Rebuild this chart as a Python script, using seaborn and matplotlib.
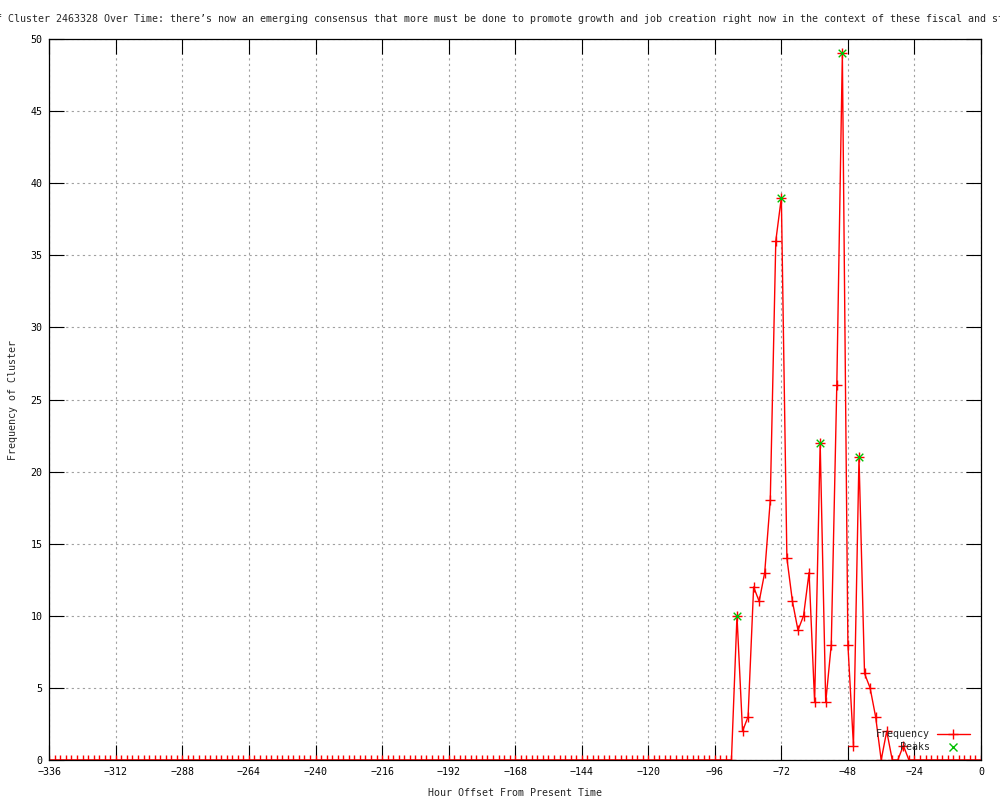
import numpy as np
import pandas as pd
import matplotlib
matplotlib.use("Agg")
import matplotlib.pyplot as plt
import seaborn as sns
from matplotlib.lines import Line2D

# hourly bins (every 2 hours) from -336 up to 0
hours = list(range(-336, 1, 2))
freq = [0] * 124 + [
    10, 2, 3, 12, 11, 13, 18, 36, 39, 14,
    11, 9, 10, 13, 4, 22, 4, 8, 26, 49,
    8, 1, 21, 6, 5, 3, 0, 2, 0, 0,
    1, 0, 0, 0, 0, 0, 0, 0, 0, 0,
    0, 0, 0, 0, 0,
]
peak_hours = [-88, -72, -58, -50, -44]
peak_vals = [10, 39, 22, 49, 21]

title = ("Frequency of Cluster 2463328 Over Time: there\u2019s now an emerging consensus "
         "that more must be done to promote growth and job creation right now in the "
         "context of these fiscal and structural reforms")

df = pd.DataFrame({"hour": hours, "freq": freq})
peaks = pd.DataFrame({"hour": peak_hours, "freq": peak_vals})

sns.set_style("ticks")
plt.rcParams["font.family"] = ["DejaVu Sans Mono"]
fs = 7.2

fig = plt.figure(figsize=(10, 8), dpi=100)
ax = fig.add_axes([0.0493, 0.05, 0.9317, 0.90125])

sns.lineplot(data=df, x="hour", y="freq", ax=ax, color="red", lw=1.0,
             marker="+", markersize=7, markeredgewidth=1.0, markeredgecolor="red",
             legend=False)
sns.scatterplot(data=peaks, x="hour", y="freq", ax=ax, color="#00c000", marker="x",
                s=30, linewidth=1.0, legend=False, zorder=3)

ax.set_xlim(-336, 0)
ax.set_ylim(0, 50)
ax.set_xticks(range(-336, 1, 24))
ax.set_yticks(range(0, 51, 5))
ax.set_xlabel("")
ax.set_ylabel("")
ax.grid(True, color="#a0a0a0", linestyle=(0, (2, 3)), lw=0.8)
ax.tick_params(direction="in", length=11, width=0.8, top=True, right=True,
               labelsize=fs, colors="black")
ax.tick_params(axis="y", pad=5)
ax.tick_params(axis="x", pad=5)
for s in ax.spines.values():
    s.set_visible(True)
    s.set_linewidth(0.9)
    s.set_color("black")

# title is wider than the figure and gets cut at both edges, as in the original
fig.text(0.515, 0.976, title, ha="center", va="center", fontsize=fs)
fig.text(0.515, 0.009, "Hour Offset From Present Time", ha="center", va="center", fontsize=fs)
fig.text(0.013, 0.5, "Frequency of Cluster", rotation=90, ha="center", va="center", fontsize=fs)

handles = [
    Line2D([], [], color="red", lw=1.0, marker="+", markersize=7, markeredgewidth=1.0),
    Line2D([], [], color="#00c000", lw=0, marker="x", markersize=6, markeredgewidth=1.0),
]
ax.legend(handles, ["Frequency", "Peaks"], loc="lower right", bbox_to_anchor=(0.988, 0.011),
          frameon=False, markerfirst=False, fontsize=fs, borderpad=0, borderaxespad=0,
          handlelength=3.3, handletextpad=0.7, labelspacing=0.3)

fig.savefig("out.png", dpi=100)
